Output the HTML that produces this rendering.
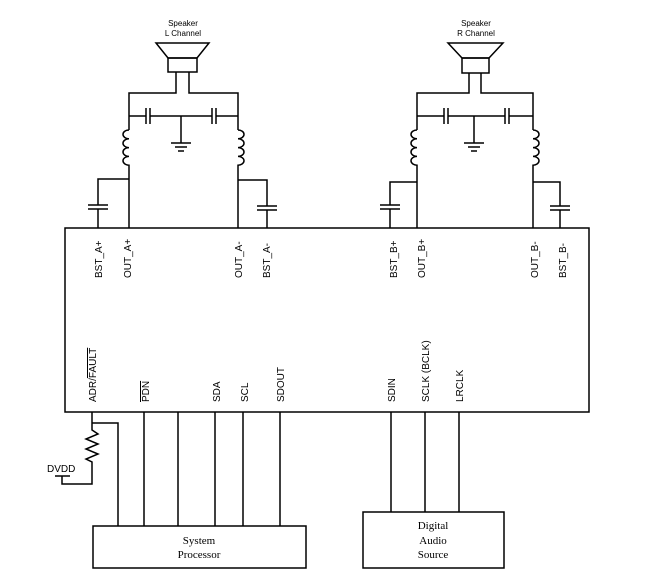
<!DOCTYPE html>
<html><head><style>body{margin:0;background:#fff}svg{display:block}text{font-family:"Liberation Sans",sans-serif;fill:#000}</style></head><body>
<svg width="650" height="587" viewBox="0 0 650 587" xmlns="http://www.w3.org/2000/svg">
<g fill="none" stroke="#000" stroke-width="1.5">
<rect x="65" y="228" width="524" height="184"/>
<path d="M156,43 L209,43 L197,58 L168,58 Z"/>
<rect x="168" y="58" width="29" height="14"/>
<path d="M176,72 V93 H129 V130 M189,72 V93 H238 V130"/>
<path d="M129,116 H146 M150,116 H212 M216,116 H238"/>
<path d="M146,108 V124 M150,108 V124 M212,108 V124 M216,108 V124"/>
<path d="M181,116 V143 M171,143 H191 M175,147 H187 M178,151 H184"/>
<path d="M129,130 a6,4.4 0 0 0 0,8.8 a6,4.4 0 0 0 0,8.8 a6,4.4 0 0 0 0,8.8 a6,4.4 0 0 0 0,8.8 V228"/>
<path d="M238,130 a6,4.4 0 0 1 0,8.8 a6,4.4 0 0 1 0,8.8 a6,4.4 0 0 1 0,8.8 a6,4.4 0 0 1 0,8.8 V228"/>
<path d="M129,179 H98 V205 M98,209 V228 M88,205 H108 M88,209 H108"/>
<path d="M238,180 H267 V206 M267,210 V228 M257,206 H277 M257,210 H277"/>
<path d="M448,43 L503,43 L489,58 L462,58 Z"/>
<rect x="462" y="58" width="27" height="15"/>
<path d="M469,73 V93 H417 V130 M481,73 V93 H533 V130"/>
<path d="M417,116 H444 M448,116 H505 M509,116 H533"/>
<path d="M444,108 V124 M448,108 V124 M505,108 V124 M509,108 V124"/>
<path d="M474,116 V143 M464,143 H484 M468,147 H480 M471,151 H477"/>
<path d="M417,130 a6,4.4 0 0 0 0,8.8 a6,4.4 0 0 0 0,8.8 a6,4.4 0 0 0 0,8.8 a6,4.4 0 0 0 0,8.8 V228"/>
<path d="M533,130 a6,4.4 0 0 1 0,8.8 a6,4.4 0 0 1 0,8.8 a6,4.4 0 0 1 0,8.8 a6,4.4 0 0 1 0,8.8 V228"/>
<path d="M417,182 H390 V205 M390,209 V228 M380,205 H400 M380,209 H400"/>
<path d="M533,182 H560 V206 M560,210 V228 M550,206 H570 M550,210 H570"/>
<path d="M92,412 V423 H118 V526 M92,423 V430 l6,4 l-12,5 l12,5 l-12,5 l12,5 l-12,5 l6,3 V484 H62 V476 M55,476 H70"/>
<path d="M144,412 V526 M178,412 V526 M215,412 V526 M243,412 V526 M280,412 V526"/>
<rect x="93" y="526" width="213" height="42"/>
<path d="M391,412 V512 M425,412 V512 M459,412 V512"/>
<rect x="363" y="512" width="141" height="56"/>
</g>
<g font-size="8" text-anchor="middle">
<text x="183" y="26">Speaker</text><text x="183" y="36">L Channel</text>
<text x="476" y="26">Speaker</text><text x="476" y="36">R Channel</text>
</g>
<g font-size="10">
<text transform="translate(102,278) rotate(-90)">BST_A+</text>
<text transform="translate(131,278) rotate(-90)">OUT_A+</text>
<text transform="translate(242,278) rotate(-90)">OUT_A-</text>
<text transform="translate(270,278) rotate(-90)">BST_A-</text>
<text transform="translate(397,278) rotate(-90)">BST_B+</text>
<text transform="translate(425,278) rotate(-90)">OUT_B+</text>
<text transform="translate(538,278) rotate(-90)">OUT_B-</text>
<text transform="translate(566,278) rotate(-90)">BST_B-</text>
<text transform="translate(96,402) rotate(-90)">ADR/<tspan text-decoration="overline">FAULT</tspan></text>
<text transform="translate(149,402) rotate(-90)" text-decoration="overline">PDN</text>
<text transform="translate(220,402) rotate(-90)">SDA</text>
<text transform="translate(248,402) rotate(-90)">SCL</text>
<text transform="translate(284,402) rotate(-90)">SDOUT</text>
<text transform="translate(395,402) rotate(-90)">SDIN</text>
<text transform="translate(429,402) rotate(-90)">SCLK (BCLK)</text>
<text transform="translate(463,402) rotate(-90)">LRCLK</text>
<text x="47" y="472">DVDD</text>
</g>
<g font-size="11" text-anchor="middle">
<text x="199" y="544" style="font-family:'Liberation Serif',serif">System</text>
<text x="199" y="558" style="font-family:'Liberation Serif',serif">Processor</text>
<text x="433" y="529" style="font-family:'Liberation Serif',serif">Digital</text>
<text x="433" y="544" style="font-family:'Liberation Serif',serif">Audio</text>
<text x="433" y="558" style="font-family:'Liberation Serif',serif">Source</text>
</g>
</svg>
</body></html>
